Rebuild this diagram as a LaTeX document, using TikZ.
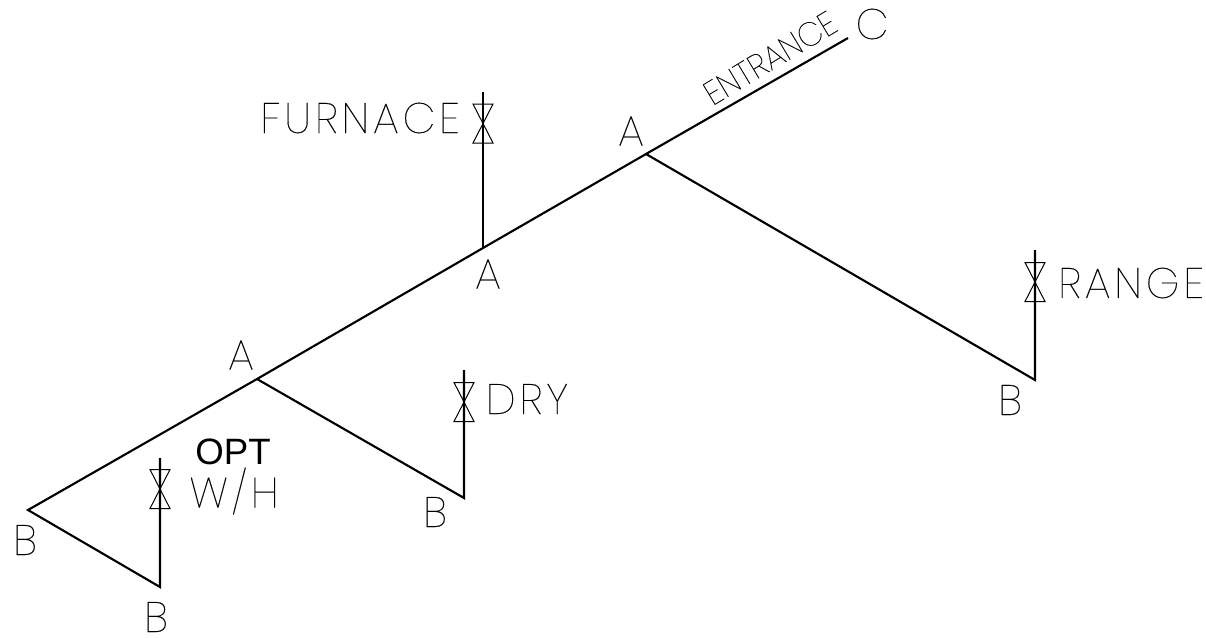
\documentclass[tikz,border=0pt]{standalone}
\usepackage{fontspec}
\setmainfont{Liberation Sans}
\newfontfamily\cad[LetterSpace=9,FakeStretch=1.0,FakeBold=0.25]{Poppins Thin}
\newfontfamily\cadtight[LetterSpace=0,FakeStretch=0.96,FakeBold=0.25]{Poppins Thin}
\begin{document}
\begin{tikzpicture}[x=0.75pt,y=-0.75pt,
  pipe/.style={line width=1.6pt,line join=miter},
  cadtext/.style={inner sep=0pt,font=\cad\fontsize{32}{32}\selectfont,text=black},
  opttext/.style={inner sep=0pt,font=\fontsize{27.5}{27.5}\selectfont,text=black},
  valve/.pic={\draw[line width=0.75pt] (-10,-19.5) -- (10,-19.5) -- (-10,19.5) -- (10,19.5) -- cycle;}]
\useasboundingbox (0,0) rectangle (1206,637);
\coordinate (c) at (848,38);
\coordinate (a1) at (646,154);
\coordinate (a2) at (483,248);
\coordinate (a3) at (257,379);
\coordinate (bl) at (28,510);
\coordinate (bb) at (160,587);
\coordinate (wtop) at (160,458);
\coordinate (ftop) at (483,92);
\coordinate (br) at (1035,380);
\coordinate (rtop) at (1035,250);
\coordinate (bd) at (464,498);
\coordinate (dtop) at (464,370);
\draw[pipe] (c) -- (a1) -- (a2) -- (a3) -- (bl) -- (bb) -- (wtop);
\draw[pipe] (a2) -- (ftop);
\draw[pipe] (a1) -- (br) -- (rtop);
\draw[pipe] (a3) -- (bd) -- (dtop);
\pic at (483,123.5) {valve};
\pic at (1035,282) {valve};
\pic at (464,402) {valve};
\pic at (160,489) {valve};
\node[cadtext,anchor=center] (furnace) at (360,118) {FURNACE};
\node[cadtext,anchor=center] (range) at (1131,283) {RANGE};
\node[cadtext,anchor=center] (dry) at (527,399) {DRY};
\node[cadtext,anchor=center] (wh) at (234,491) {W/H};
\node[cadtext,anchor=center,font=\cadtight\fontsize{25}{25}\selectfont,rotate=31] (ent) at (770,58) {ENTRANCE};
\node[cadtext] (lc) at (872,24) {C};
\node[cadtext] (la1) at (631,131) {A};
\node[cadtext] (la2) at (488,274) {A};
\node[cadtext] (la3) at (241,355) {A};
\node[cadtext] (lb1) at (25,540) {B};
\node[cadtext] (lb2) at (156,617) {B};
\node[cadtext] (lb3) at (435,512) {B};
\node[cadtext] (lb4) at (1010,400) {B};
\node[opttext] (opt) at (233,452) {OPT};
\end{tikzpicture}
\end{document}
